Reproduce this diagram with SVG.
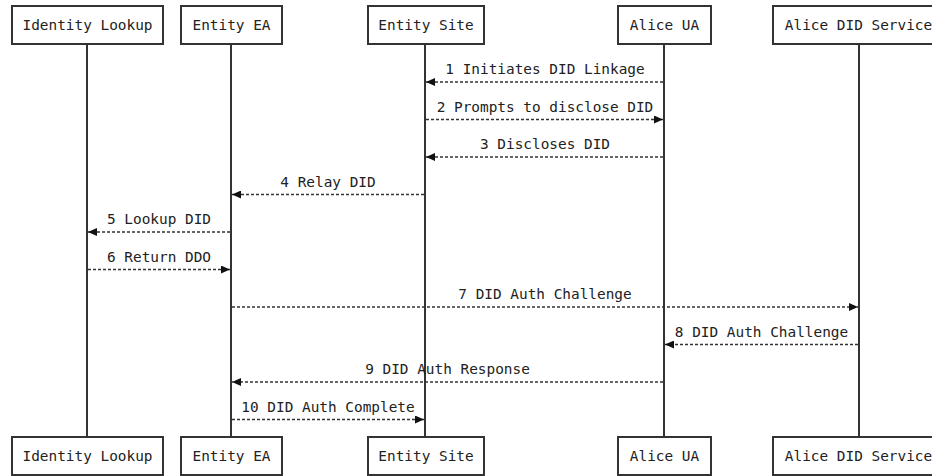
<svg xmlns="http://www.w3.org/2000/svg" width="932" height="476" viewBox="0 0 932 476">
<style>
.box{fill:#fff;stroke:#333;stroke-width:2}
.life{stroke:#333;stroke-width:2}
.lbl{font-family:"DejaVu Sans Mono","Liberation Mono",monospace;font-size:14.4px;fill:#222;text-anchor:middle}
.msg{stroke:#333;stroke-width:1.5;stroke-dasharray:3,2;fill:none;marker-end:url(#ah)}
</style>
<defs>
<marker id="ah" markerUnits="userSpaceOnUse" viewBox="0 0 9 8" markerWidth="9" markerHeight="8" refX="9" refY="4" orient="auto">
<path d="M0,0 L9,4 L0,8 z" fill="#111"/>
</marker>
</defs>
<rect width="932" height="476" fill="#fff"/>
<g id="lifelines">
<line class="life" x1="87" y1="44" x2="87" y2="437"/>
<line class="life" x1="231" y1="44" x2="231" y2="437"/>
<line class="life" x1="425" y1="44" x2="425" y2="437"/>
<line class="life" x1="664" y1="44" x2="664" y2="437"/>
<line class="life" x1="859" y1="44" x2="859" y2="437"/>
</g>
<g id="identity-lookup">
<rect class="box" x="12" y="6" width="151" height="38"/>
<text class="lbl" x="87.5" y="30">Identity Lookup</text>
<rect class="box" x="12" y="437" width="151" height="38"/>
<text class="lbl" x="87.5" y="461">Identity Lookup</text>
</g>
<g id="entity-ea">
<rect class="box" x="181" y="6" width="101" height="38"/>
<text class="lbl" x="231.5" y="30">Entity EA</text>
<rect class="box" x="181" y="437" width="101" height="38"/>
<text class="lbl" x="231.5" y="461">Entity EA</text>
</g>
<g id="entity-site">
<rect class="box" x="368" y="6" width="116" height="38"/>
<text class="lbl" x="426" y="30">Entity Site</text>
<rect class="box" x="368" y="437" width="116" height="38"/>
<text class="lbl" x="426" y="461">Entity Site</text>
</g>
<g id="alice-ua">
<rect class="box" x="618" y="6" width="93" height="38"/>
<text class="lbl" x="664.5" y="30">Alice UA</text>
<rect class="box" x="618" y="437" width="93" height="38"/>
<text class="lbl" x="664.5" y="461">Alice UA</text>
</g>
<g id="alice-did-service">
<rect class="box" x="773" y="6" width="171" height="38"/>
<text class="lbl" x="858.5" y="30">Alice DID Service</text>
<rect class="box" x="773" y="437" width="171" height="38"/>
<text class="lbl" x="858.5" y="461">Alice DID Service</text>
</g>
<g id="connectors">
<line class="msg" x1="663" y1="82" x2="426" y2="82"/>
<text class="lbl" x="545" y="74">1 Initiates DID Linkage</text>
<line class="msg" x1="426" y1="119.5" x2="663" y2="119.5"/>
<text class="lbl" x="545" y="111.5">2 Prompts to disclose DID</text>
<line class="msg" x1="663" y1="157" x2="426" y2="157"/>
<text class="lbl" x="545" y="149">3 Discloses DID</text>
<line class="msg" x1="424" y1="194.5" x2="232" y2="194.5"/>
<text class="lbl" x="328" y="186.5">4 Relay DID</text>
<line class="msg" x1="230" y1="232" x2="88" y2="232"/>
<text class="lbl" x="159" y="224">5 Lookup DID</text>
<line class="msg" x1="88" y1="269.5" x2="230" y2="269.5"/>
<text class="lbl" x="159" y="261.5">6 Return DDO</text>
<line class="msg" x1="232" y1="307" x2="858" y2="307"/>
<text class="lbl" x="545" y="299">7 DID Auth Challenge</text>
<line class="msg" x1="858" y1="344.5" x2="665" y2="344.5"/>
<text class="lbl" x="761.5" y="336.5">8 DID Auth Challenge</text>
<line class="msg" x1="663" y1="382" x2="232" y2="382"/>
<text class="lbl" x="447.5" y="374">9 DID Auth Response</text>
<line class="msg" x1="232" y1="419.5" x2="424" y2="419.5"/>
<text class="lbl" x="328" y="411.5">10 DID Auth Complete</text>
</g>
</svg>
